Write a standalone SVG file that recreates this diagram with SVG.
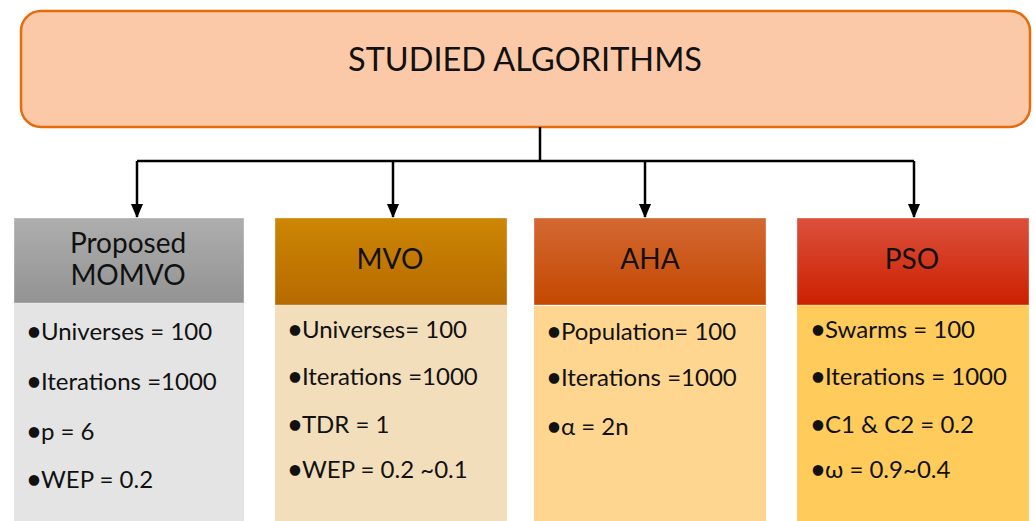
<svg xmlns="http://www.w3.org/2000/svg" width="1035" height="521" viewBox="0 0 1035 521">
<defs>
<linearGradient id="gGray" x1="0" y1="0" x2="0" y2="1"><stop offset="0" stop-color="#AEAEAE"/><stop offset="1" stop-color="#939393"/></linearGradient>
<linearGradient id="gMvo" x1="0" y1="0" x2="0" y2="1"><stop offset="0" stop-color="#CD8604"/><stop offset="1" stop-color="#B66A00"/></linearGradient>
<linearGradient id="gAha" x1="0" y1="0" x2="0" y2="1"><stop offset="0" stop-color="#D36833"/><stop offset="1" stop-color="#C44800"/></linearGradient>
<linearGradient id="gPso" x1="0" y1="0" x2="0" y2="1"><stop offset="0" stop-color="#DC503C"/><stop offset="1" stop-color="#CC2000"/></linearGradient>
<marker id="arr" markerWidth="14" markerHeight="16" refX="15" refY="7" orient="auto" markerUnits="userSpaceOnUse" viewBox="0 0 16 14">
<path d="M0,0 L16,7 L0,14 z" fill="#000"/>
</marker>
<style>
text{font-family:Lato,"Open Sans","Liberation Sans",sans-serif;fill:#111}
.title{font-size:32.5px;text-anchor:middle}
.head{font-size:28px;text-anchor:middle}
.item{font-size:24px}
.b{font-weight:bold}
.hdr{stroke:#fff;stroke-opacity:0.35;stroke-width:1}
.conn{stroke:#000;stroke-width:2.5;fill:none}
</style>
</defs>
<rect width="1035" height="521" fill="#fff"/>
<g id="root">
<rect x="21" y="11" width="1009" height="116" rx="20" fill="#FCC9A8" stroke="#E46C0A" stroke-width="2.5"/>
<text class="title" x="525" y="71">STUDIED ALGORITHMS</text>
</g>
<g id="connectors">
<path class="conn" d="M540,127 V161"/>
<path class="conn" d="M137,161 H914"/>
<path class="conn" d="M137,161 V217" marker-end="url(#arr)"/>
<path class="conn" d="M393,161 V217" marker-end="url(#arr)"/>
<path class="conn" d="M645,161 V217" marker-end="url(#arr)"/>
<path class="conn" d="M914,161 V217" marker-end="url(#arr)"/>
</g>
<g id="momvo">
<rect x="14" y="303" width="230" height="218" fill="#E4E4E4"/>
<rect class="hdr" x="14" y="218" width="230" height="85" fill="url(#gGray)"/>
<text class="head" x="128" y="253">Proposed</text>
<text class="head" x="128" y="285">MOMVO</text>
<text class="item" x="27" y="340"><tspan class="b">•</tspan>Universes = 100</text>
<text class="item" x="27" y="390"><tspan class="b">•</tspan>Iterations =1000</text>
<text class="item" x="27" y="440"><tspan class="b">•</tspan>p = 6</text>
<text class="item" x="27" y="488"><tspan class="b">•</tspan>WEP = 0.2</text>
</g>
<g id="mvo">
<rect x="275" y="305" width="232" height="216" fill="#F3DEBB"/>
<rect class="hdr" x="275" y="218" width="232" height="87" fill="url(#gMvo)"/>
<text class="head" x="390" y="269">MVO</text>
<text class="item" x="288" y="338"><tspan class="b">•</tspan>Universes= 100</text>
<text class="item" x="288" y="385"><tspan class="b">•</tspan>Iterations =1000</text>
<text class="item" x="288" y="433"><tspan class="b">•</tspan>TDR = 1</text>
<text class="item" x="288" y="478"><tspan class="b">•</tspan>WEP = 0.2 ~0.1</text>
</g>
<g id="aha">
<rect x="534" y="306" width="232" height="215" fill="#FED690"/>
<rect class="hdr" x="534" y="218" width="232" height="87" fill="url(#gAha)"/>
<text class="head" x="650" y="269">AHA</text>
<text class="item" x="547" y="340"><tspan class="b">•</tspan>Population= 100</text>
<text class="item" x="547" y="386"><tspan class="b">•</tspan>Iterations =1000</text>
<text class="item" x="547" y="435"><tspan class="b">•</tspan>α = 2n</text>
</g>
<g id="pso">
<rect x="797" y="305" width="232" height="216" fill="#FFCB5A"/>
<rect class="hdr" x="797" y="218" width="232" height="87" fill="url(#gPso)"/>
<text class="head" x="912" y="269">PSO</text>
<text class="item" x="811" y="338"><tspan class="b">•</tspan>Swarms = 100</text>
<text class="item" x="811" y="385"><tspan class="b">•</tspan>Iterations = 1000</text>
<text class="item" x="811" y="433"><tspan class="b">•</tspan>C1 &amp; C2 = 0.2</text>
<text class="item" x="811" y="478"><tspan class="b">•</tspan>ω = 0.9~0.4</text>
</g>
</svg>
